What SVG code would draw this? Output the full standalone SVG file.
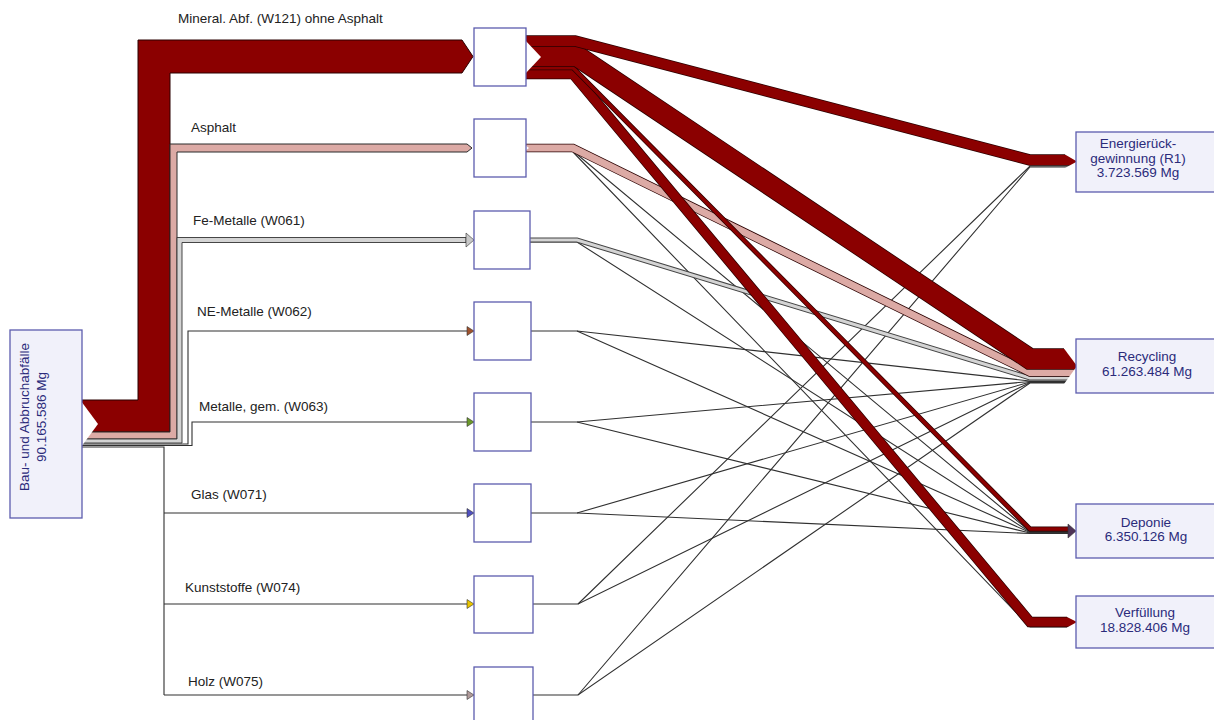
<svg xmlns="http://www.w3.org/2000/svg" width="1214" height="720" viewBox="0 0 1214 720">
<style>
.o{fill:none;stroke:#2a0000;stroke-linejoin:miter;stroke-miterlimit:10}
.og{fill:none;stroke:#444;stroke-linejoin:miter;stroke-miterlimit:10}
.r{fill:none;stroke:#8b0000;stroke-linejoin:miter;stroke-miterlimit:10}
.p{fill:none;stroke:#dcaaa5;stroke-linejoin:miter;stroke-miterlimit:10}
.g{fill:none;stroke:#d4d4d4;stroke-linejoin:miter;stroke-miterlimit:10}
.t{fill:none;stroke:#303030;stroke-width:1.1}
.cut{fill:#fff;stroke:none}
.mid{fill:#fff;stroke:#5c5cae;stroke-width:1.3}
.tn{fill:#f1f1fa;stroke:#5c5cae;stroke-width:1.3}
.lbl{font-family:"Liberation Sans",Arial,sans-serif;font-size:13.5px;fill:#222}
.nt{font-family:"Liberation Sans",Arial,sans-serif;font-size:13.5px;fill:#2b2b7a;text-anchor:middle}
.ah{stroke:#333;stroke-width:0.6}
</style>
<rect width="1214" height="720" fill="#fff"/>
<g id="connectors">
  <polygon points="82,400 138,400 138,40 462,40 473,56.5 462,73 170,73 170,432 82,432" fill="#8b0000" stroke="#2a0000" stroke-width="1"/>
  <polygon points="82,432 170,432 170,144 467,144 472,148 467,152 177,152 177,439 82,439" fill="#dcaaa5" stroke="#2a2a2a" stroke-width="1"/>
  <polygon points="82,439 177,439 177,237.5 466,237.5 466,242.5 182,242.5 182,443 82,443" fill="#d4d4d4" stroke="#333" stroke-width="0.9"/>
  <polygon class="ah" points="466,233 474,240 466,247" fill="#c8c8c8"/>
  <polyline class="t" points="82,444 188,444 188,331 468,331"/>
  <polygon class="ah" points="467,326.5 474,331 467,335.5" fill="#a0522d"/>
  <polyline class="t" points="82,445.5 192,445.5 192,422 468,422"/>
  <polygon class="ah" points="467,417.5 474,422 467,426.5" fill="#6b9a2a"/>
  <polyline class="t" points="82,447 164,447 164,695" stroke-width="1.8"/>
  <polyline class="t" points="164,513 468,513"/>
  <polygon class="ah" points="467,508.5 474,513 467,517.5" fill="#5050c0"/>
  <polyline class="t" points="164,604 468,604"/>
  <polygon class="ah" points="467,599.5 474,604 467,608.5" fill="#e8c400"/>
  <polyline class="t" points="164,695 468,695" stroke-width="1.8"/>
  <polygon class="ah" points="467,690.5 474,695 467,699.5" fill="#b09a9a"/>
  <polygon class="cut" points="81,401 98,424 81,447"/>

  <polyline class="t" points="573,151 1030,531.5 1068,531.5"/>
  <polyline class="t" points="573,152 1030,627 1068,627"/>
  <polyline class="t" points="530,242 577,242 1030,532 1068,532"/>
  <polyline class="t" points="531,331 577,331 1030,381 1076,381" stroke-width="1.5"/>
  <polyline class="t" points="577,331 1030,532.5 1068,532.5"/>
  <polyline class="t" points="531,422 577,422 1030,381.5 1076,381.5" stroke-width="1.5"/>
  <polyline class="t" points="577,422 1030,533 1068,533"/>
  <polyline class="t" points="531,513 577,513 1030,382 1076,382" stroke-width="1.5"/>
  <polyline class="t" points="577,513 1030,533.5 1068,533.5"/>
  <polyline class="t" points="533,604 578,604 1030,382.5 1076,382.5" stroke-width="1.5"/>
  <polyline class="t" points="578,604 1030,166 1076,166"/>
  <polyline class="t" points="533,695 578,695 1030,383 1076,383" stroke-width="1.8"/>
  <polyline class="t" points="578,695 1030,167 1076,167"/>

  <polyline class="og" points="530,240 577,240 1030,378 1076,378" stroke-width="5"/>
  <polyline class="g" points="530,240 577,240 1030,378 1076,378" stroke-width="3"/>
  <polyline class="o" points="526,148 573,148 1030,372.5 1076,372.5" stroke-width="8.5"/>
  <polyline class="p" points="526,148 573,148 1030,372.5 1076,372.5" stroke-width="7"/>
  <polyline class="o" points="526,74 573,74 1030,622 1076,622" stroke-width="10.5"/>
  <polyline class="r" points="526,74 573,74 1030,622 1076,622" stroke-width="9"/>
  <polyline class="o" points="526,67.75 573,67.75 1030,529 1068,529" stroke-width="5"/>
  <polyline class="r" points="526,67.75 573,67.75 1030,529 1068,529" stroke-width="3.5"/>
  <polyline class="o" points="526,56 577,56 1030,359 1076,359" stroke-width="21.5"/>
  <polyline class="r" points="526,56 577,56 1030,359 1076,359" stroke-width="20"/>
  <polyline class="o" points="526,41 575,41 1030,160 1076,160" stroke-width="11.5"/>
  <polyline class="r" points="526,41 575,41 1030,160 1076,160" stroke-width="10"/>
  <polygon class="cut" points="525,40 541,57 525,74"/>
  <polygon class="cut" points="525,145 529,148 525,151"/>

  <polygon class="cut" points="1065,149 1077,149 1077,161.5 1065,154.5"/>
  <polygon class="cut" points="1065,168 1077,161.5 1077,174 1065,174"/>
  <polygon class="cut" points="1064,342 1077,342 1077,366 1064,348.5"/>
  <polygon class="cut" points="1064,384 1077,366 1077,390 1064,390"/>
  <polygon class="cut" points="1067,611 1077,611 1077,622 1067,617"/>
  <polygon class="cut" points="1067,627.5 1077,622 1077,633 1067,633"/>
  <polygon class="ah" points="1068,524 1076,531 1068,538" fill="#4e3356"/>
</g>
<g id="source">
  <rect x="10" y="330" width="72" height="188" class="tn"/>
  <text class="nt" transform="translate(29,417) rotate(-90)">Bau- und Abbruchabfälle</text>
  <text class="nt" transform="translate(46,417) rotate(-90)">90.165.586 Mg</text>
</g>
<g id="n-mineral"><rect x="474" y="28" width="52" height="58" class="mid"/><text class="lbl" x="178" y="23">Mineral. Abf. (W121) ohne Asphalt</text></g>
<g id="n-asphalt"><rect x="474" y="119" width="52" height="58" class="mid"/><text class="lbl" x="191" y="132">Asphalt</text></g>
<g id="n-fe"><rect x="474" y="211" width="56" height="58" class="mid"/><text class="lbl" x="193" y="225">Fe-Metalle (W061)</text></g>
<g id="n-ne"><rect x="474" y="302" width="57" height="58" class="mid"/><text class="lbl" x="197" y="316">NE-Metalle (W062)</text></g>
<g id="n-metgem"><rect x="474" y="393" width="57" height="58" class="mid"/><text class="lbl" x="199" y="411">Metalle, gem. (W063)</text></g>
<g id="n-glas"><rect x="474" y="484" width="57" height="58" class="mid"/><text class="lbl" x="191" y="499">Glas (W071)</text></g>
<g id="n-kunst"><rect x="474" y="576" width="59" height="57" class="mid"/><text class="lbl" x="185" y="592">Kunststoffe (W074)</text></g>
<g id="n-holz"><rect x="474" y="667" width="59" height="60" class="mid"/><text class="lbl" x="188" y="686">Holz (W075)</text></g>
<g id="t-energie"><rect x="1076" y="132" width="150" height="60" class="tn"/>
  <text class="nt" x="1138" y="148">Energierück-</text><text class="nt" x="1138" y="163">gewinnung (R1)</text><text class="nt" x="1138" y="177">3.723.569 Mg</text></g>
<g id="t-recycling"><rect x="1076" y="339" width="150" height="54" class="tn"/>
  <text class="nt" x="1147" y="361">Recycling</text><text class="nt" x="1147" y="376">61.263.484 Mg</text></g>
<g id="t-deponie"><rect x="1076" y="504" width="150" height="54" class="tn"/>
  <text class="nt" x="1146" y="527">Deponie</text><text class="nt" x="1146" y="541">6.350.126 Mg</text></g>
<g id="t-verfuellung"><rect x="1076" y="596" width="150" height="52" class="tn"/>
  <text class="nt" x="1145" y="617">Verfüllung</text><text class="nt" x="1145" y="632">18.828.406 Mg</text></g>
</svg>
